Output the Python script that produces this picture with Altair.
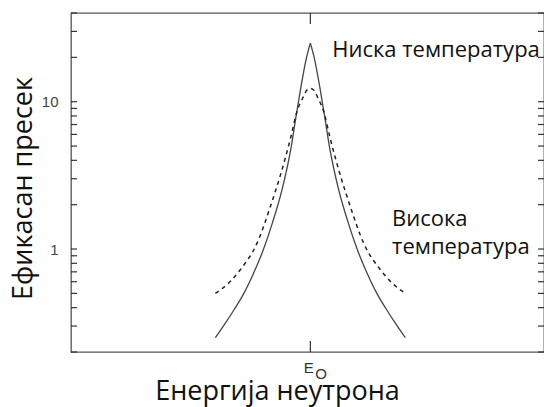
import altair as alt
import pandas as pd

# Energy offset from the resonance E0 (arbitrary units) and effective cross-section
low_t_x = [-10, -9, -8, -7, -6, -5, -4, -3, -2, -1.5, -1, -0.4, 0,
           0.4, 1, 1.5, 2, 3, 4, 5, 6, 7, 8, 9, 10]
low_t_y = [0.25, 0.31, 0.39, 0.50, 0.68, 0.97, 1.5, 2.5, 5.0, 8.0, 12.5, 20, 25,
           20, 12.5, 8.0, 5.0, 2.5, 1.5, 0.97, 0.68, 0.50, 0.39, 0.31, 0.25]

high_t_x = [-10, -8.7, -7.4, -5.6, -4.2, -3.2, -2.1, -1.4, -0.8, -0.4, 0,
            0.4, 0.8, 1.4, 2.1, 3.2, 4.2, 5.6, 7.4, 8.7, 10]
high_t_y = [0.50, 0.58, 0.72, 1.10, 1.95, 3.1, 5.6, 8.6, 10.6, 11.9, 12.3,
            11.9, 10.6, 8.6, 5.6, 3.1, 1.95, 1.10, 0.72, 0.58, 0.50]

# Log-axis tick positions and the ones that carry a label
y_ticks = [0.2, 0.3, 0.4, 0.5, 0.6, 0.7, 0.8, 0.9, 1, 2, 3, 4, 5, 6, 7, 8, 9,
           10, 20, 30, 40]
y_labels = [1, 10]

# Curve annotations
note_text = ["Ниска температура", "Висока", "температура"]
note_x = [2.3, 8.6, 8.6]
note_y = [20, 1.43, 0.925]

W, H = 473, 339
X_DOMAIN = [-25.2, 24.6]
Y_DOMAIN = [0.2, 40]
FONT = "Open Sans"
LINE = "#444444"

# The narrow (low temperature) resonance is drawn as two monotone halves that
# meet at the sharp peak.
low = pd.DataFrame({"e": low_t_x, "s": low_t_y})
low_left = low[low.e <= 0].assign(side="L")
low_right = low[low.e >= 0].assign(side="R")
low = pd.concat([low_left, low_right], ignore_index=True)

high = pd.DataFrame({"e": high_t_x, "s": high_t_y})
ticks = pd.DataFrame({"v": y_ticks})
notes = pd.DataFrame({"t": note_text, "e": note_x, "s": note_y})
e0 = pd.DataFrame({"e": [0]})

xs = alt.Scale(domain=X_DOMAIN, nice=False, zero=False)
ys = alt.Scale(type="log", domain=Y_DOMAIN, nice=False)

x_axis = alt.Axis(values=[0], labelExpr="'E'", ticks=False, domain=False, grid=False,
                  labelFont="Liberation Sans", labelFontSize=15, labelColor="#333333",
                  labelPadding=8, labelOffset=-2,
                  title="Енергија неутрона", titleFont=FONT, titleFontSize=27,
                  titleFontWeight="normal", titleColor="#111111",
                  titleX=206, titleY=47, titleBaseline="alphabetic")
y_axis = alt.Axis(values=y_labels, format="d", ticks=False, domain=False, grid=False,
                  labelFont="Liberation Sans", labelFontSize=15, labelColor="#444444",
                  labelPadding=13,
                  title="Ефикасан пресек", titleFont=FONT, titleFontSize=27,
                  titleFontWeight="normal", titleColor="#111111",
                  titleX=-40, titleY=175, titleBaseline="alphabetic")

solid = alt.Chart(low).mark_line(color=LINE, strokeWidth=1.3,
                                 interpolate="monotone").encode(
    x=alt.X("e:Q", scale=xs, axis=x_axis),
    y=alt.Y("s:Q", scale=ys, axis=y_axis),
    detail="side:N",
)
dashed = alt.Chart(high).mark_line(color="#222222", strokeWidth=1.5,
                                   strokeDash=[4, 4], interpolate="monotone").encode(
    x=alt.X("e:Q", scale=xs), y=alt.Y("s:Q", scale=ys))

left_ticks = alt.Chart(ticks).mark_rule(color="#333333", strokeWidth=1.2).encode(
    y=alt.Y("v:Q", scale=ys), x=alt.value(0), x2=alt.value(6))
right_ticks = alt.Chart(ticks).mark_rule(color="#333333", strokeWidth=1.2).encode(
    y=alt.Y("v:Q", scale=ys), x=alt.value(W - 6), x2=alt.value(W))
top_tick = alt.Chart(e0).mark_rule(color="#333333", strokeWidth=1.2).encode(
    x=alt.X("e:Q", scale=xs), y=alt.value(0), y2=alt.value(11))
bottom_tick = alt.Chart(e0).mark_rule(color="#333333", strokeWidth=1.2).encode(
    x=alt.X("e:Q", scale=xs), y=alt.value(H - 11), y2=alt.value(H))
sub_o = alt.Chart(e0).mark_text(text="O", font="Liberation Sans", fontSize=15,
                                color="#333333", align="left", baseline="alphabetic",
                                dx=5, dy=27).encode(
    x=alt.X("e:Q", scale=xs), y=alt.value(H))

labels = alt.Chart(notes).mark_text(font=FONT, fontSize=22, color="#111111",
                                    align="left", baseline="alphabetic").encode(
    x=alt.X("e:Q", scale=xs), y=alt.Y("s:Q", scale=ys), text="t:N")

chart = alt.layer(solid, dashed, left_ticks, right_ticks, top_tick, bottom_tick,
                  sub_o, labels).properties(
    width=W, height=H,
    autosize=alt.AutoSizeParams(type="none"),
    padding={"left": 71, "top": 13, "right": 0, "bottom": 55},
    background="white",
).configure_view(stroke="#555555", strokeWidth=1.3)

chart.save("out.html", embed_options={"renderer": "svg", "actions": False})
